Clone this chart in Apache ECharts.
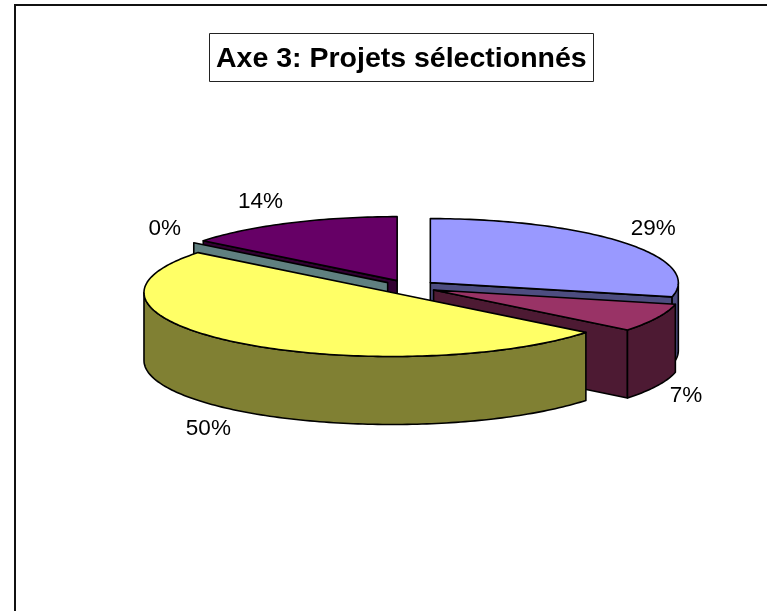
<!DOCTYPE html>
<html><head><meta charset="utf-8">
<style>html,body{margin:0;padding:0;background:#fff}#c{width:767px;height:611px}</style>
<script src="https://cdn.jsdelivr.net/npm/echarts@6/dist/echarts.min.js"></script>
</head><body><div id="c"></div>
<script>
const titleText = 'Axe 3: Projets sélectionnés';
const categories = ['A', 'B', 'C', 'D', 'E'];
const values = [4, 1, 7, 0, 2];
const topColors = ['#9999FF', '#993366', '#FFFF66', '#669999', '#660066'];
const sideColors = ['#4D4D80', '#4D1A33', '#808033', '#608080', '#330033'];
const paintRank = [0, 1, 4, 3, 2];

const CX = 409, CY = 287, RX = 248, RY = 64, DEPTH = 68, EXPLODE = 0.11;
const total = values.reduce((a, b) => a + b, 0);
const starts = [];
values.reduce((s, v, i) => { starts[i] = s; return s + v; }, 0);
const rad = v => v / total * Math.PI * 2;

function rimPoint(c, t, dy) { return [c[0] + RX * Math.sin(t), c[1] - RY * Math.cos(t) + (dy || 0)]; }
function arc(c, a, b, dy) {
  const n = Math.max(1, Math.ceil(Math.abs(b - a) / 0.02)), pts = [];
  for (let i = 0; i <= n; i++) pts.push(rimPoint(c, a + (b - a) * i / n, dy));
  return pts;
}
function poly(points, fill, z2) {
  return { type: 'polygon', z2, shape: { points },
    style: { fill, stroke: '#000', lineWidth: 1.6, lineJoin: 'round' } };
}
function renderItem(params, api) {
  const i = params.dataIndex, v = api.value(1);
  const a = rad(starts[i]), b = a + rad(v), mid = (a + b) / 2;
  const c = [CX + EXPLODE * RX * Math.sin(mid), CY - EXPLODE * RY * Math.cos(mid)];
  const base = paintRank[i] * 10, kids = [];
  const apexB = [c[0], c[1] + DEPTH];
  const face = t => { const p = rimPoint(c, t); return [c, p, [p[0], p[1] + DEPTH], apexB]; };
  if (Math.sin(a) < -1e-6) kids.push(poly(face(a), sideColors[i], base + 1));
  if (Math.sin(b) > 1e-6) kids.push(poly(face(b), sideColors[i], base + 1));
  const f0 = Math.max(a, Math.PI / 2), f1 = Math.min(b, Math.PI * 1.5);
  if (f1 > f0) kids.push(poly(arc(c, f0, f1, 0).concat(arc(c, f1, f0, DEPTH)), sideColors[i], base + 2));
  if (b > a) kids.push(poly([c].concat(arc(c, a, b, 0)), topColors[i], base + 3));
  const rim = rimPoint(c, mid, Math.cos(mid) < 0 ? DEPTH : 0);
  kids.push({ type: 'text', z2: 100, style: {
    x: rim[0] + (Math.sin(mid) >= 0 ? 29 : -29), y: rim[1] - 23 * Math.cos(mid),
    text: Math.round(v / total * 100) + '%', align: 'center', verticalAlign: 'middle',
    fill: '#000', font: '22.5px "Liberation Sans", Arial, sans-serif' } });
  return { type: 'group', children: kids };
}
const chart = echarts.init(document.getElementById('c'), null, { renderer: 'canvas' });
chart.setOption({
  animation: false,
  backgroundColor: '#fff',
  title: { text: titleText, left: 209, top: 33, padding: [12, 7, 8, 7], borderColor: '#222', borderWidth: 1,
    backgroundColor: '#fff',
    textStyle: { fontFamily: '"Liberation Sans", Arial, sans-serif', fontWeight: 'bold', fontSize: 28.5, color: '#000', lineHeight: 29 } },
  graphic: [{ type: 'rect', z: -1, silent: true, shape: { x: 15, y: 5, width: 800, height: 700 },
    style: { fill: '#fff', stroke: '#111', lineWidth: 2 } }],
  series: [{ type: 'custom', coordinateSystem: 'none', renderItem, silent: true,
    data: categories.map((c, i) => [c, values[i]]) }]
});
</script></body></html>
